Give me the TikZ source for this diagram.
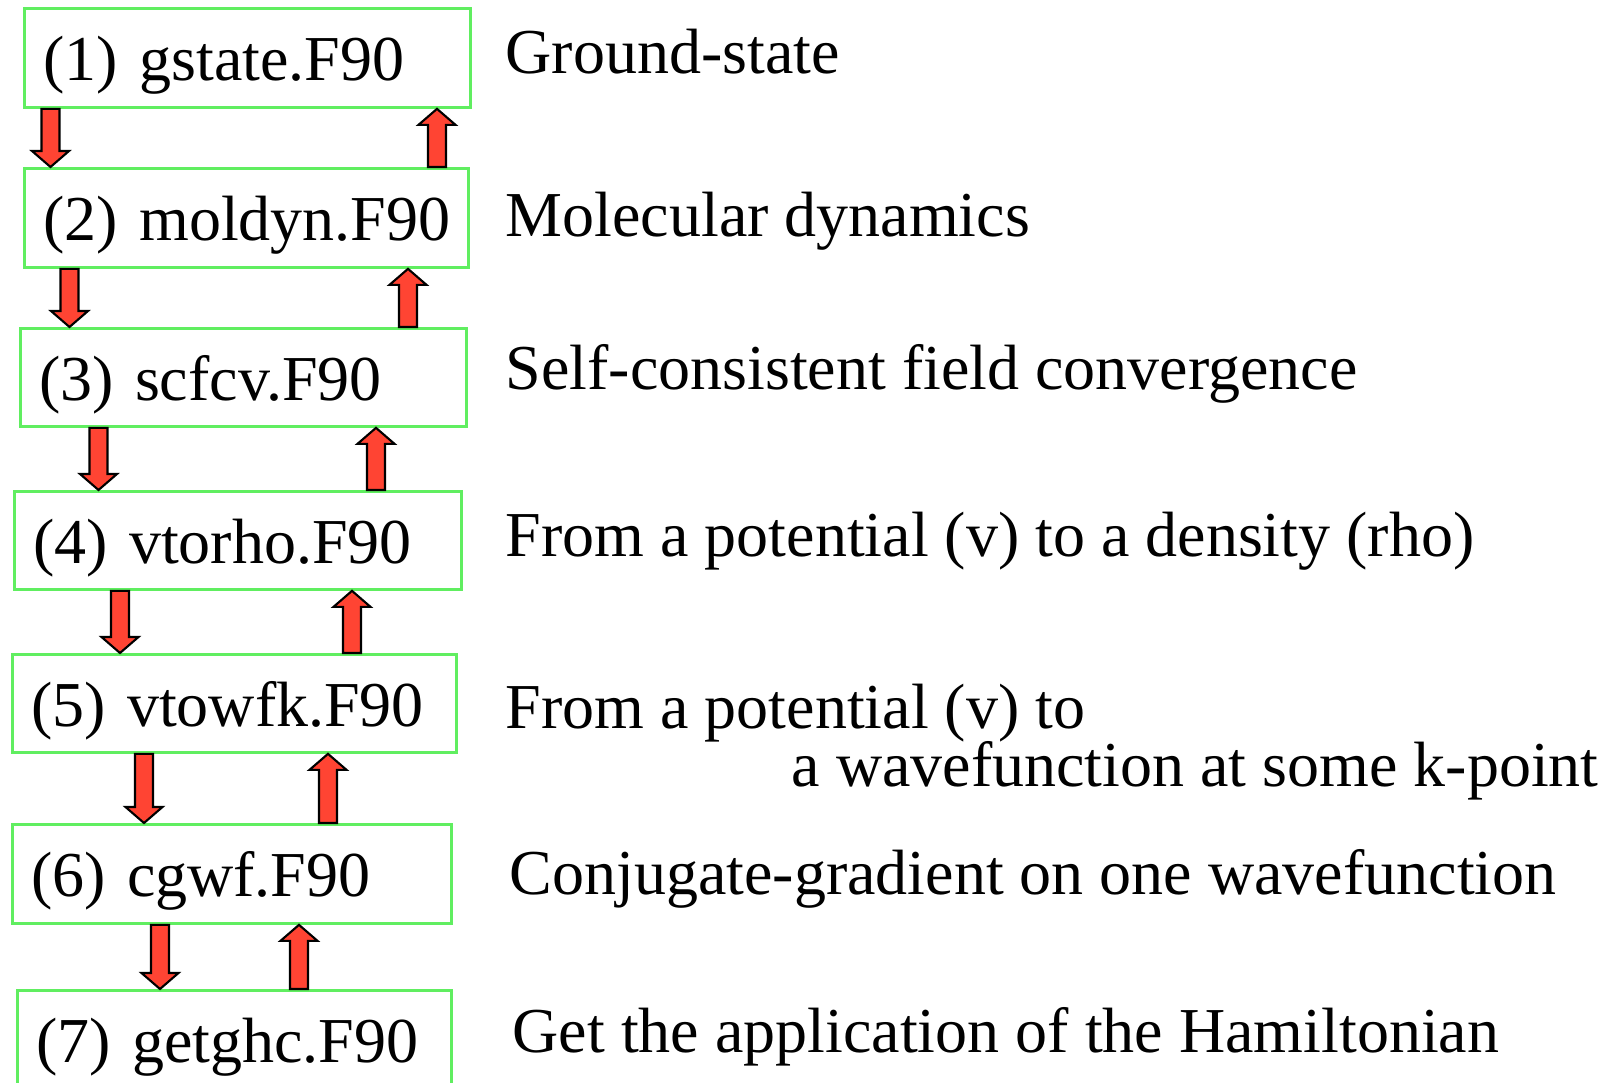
\documentclass[tikz,border=0pt]{standalone}
\usepackage{fontspec}
\setmainfont{Liberation Serif}
\usetikzlibrary{calc}

\definecolor{boxgreen}{RGB}{96,238,96}
\definecolor{arrowred}{RGB}{255,68,51}

% block arrows between two boxes, #3 = x in px
\newcommand{\calldown}[3]{%
  \filldraw[blockarrow] let \p1=(#1.south), \p2=(#2.north), \p3=(#3,0) in
    (\x3-0.09cm,\y1) -- (\x3+0.09cm,\y1) -- (\x3+0.09cm,\y2+0.16cm) -- (\x3+0.185cm,\y2+0.16cm)
    -- (\x3,\y2) -- (\x3-0.185cm,\y2+0.16cm) -- (\x3-0.09cm,\y2+0.16cm) -- cycle;}
\newcommand{\returnup}[3]{%
  \filldraw[blockarrow] let \p1=(#1.south), \p2=(#2.north), \p3=(#3,0) in
    (\x3-0.09cm,\y2) -- (\x3+0.09cm,\y2) -- (\x3+0.09cm,\y1-0.16cm) -- (\x3+0.185cm,\y1-0.16cm)
    -- (\x3,\y1) -- (\x3-0.185cm,\y1-0.16cm) -- (\x3-0.09cm,\y1-0.16cm) -- cycle;}

\begin{document}
\begin{tikzpicture}[
    x=0.01cm, y=-0.01cm,
    prog/.style={
        rectangle, draw=boxgreen, line width=0.8pt,
        anchor=north west, align=left, text width=#1,
        inner xsep=0.19cm, text height=0.46cm, text depth=0pt,
        font=\fontsize{18.2}{21}\selectfont
    },
    desc/.style={
        anchor=base west, inner sep=0pt,
        font=\fontsize{18.2}{21}\selectfont
    },
    blockarrow/.style={fill=arrowred, draw=black, line width=0.6pt, line join=miter}
]
\useasboundingbox (0,0) rectangle (1608,1083);

\node[prog=4.08cm, minimum height=0.99cm] (gstate) at (23,7) {\mbox{(1) gstate.F90}};
\node[prog=4.06cm, minimum height=0.99cm] (moldyn) at (23,167) {\mbox{(2) moldyn.F90}};
\node[prog=4.08cm, minimum height=0.98cm] (scfcv) at (18.7,327) {\mbox{(3) scfcv.F90}};
\node[prog=4.09cm, minimum height=0.98cm] (vtorho) at (12.7,490) {\mbox{(4) vtorho.F90}};
\node[prog=4.06cm, minimum height=0.98cm] (vtowfk) at (10.7,653) {\mbox{(5) vtowfk.F90}};
\node[prog=4.01cm, minimum height=0.99cm] (cgwf) at (10.7,823) {\mbox{(6) cgwf.F90}};
\node[prog=3.96cm, minimum height=0.99cm] (getghc) at (15.7,989) {\mbox{(7) getghc.F90}};

\node[desc] (gsdesc) at (505,74) {Ground-state};
\node[desc] (mddesc) at (505,237) {Molecular dynamics};
\node[desc] (scfdesc) at (505,390) {Self-consistent field convergence};
\node[desc] (rhodesc) at (505,557) {From a potential (v) to a density (rho)};
\node[desc] (wfkdesc) at (505,729) {From a potential (v) to};
\node[desc] (wfkdescb) at (791,787) {a wavefunction at some k-point};
\node[desc] (cgdesc) at (509,895) {Conjugate-gradient on one wavefunction};
\node[desc] (ghcdesc) at (512,1053) {Get the application of the Hamiltonian};

\calldown{gstate}{moldyn}{50.5}
\returnup{gstate}{moldyn}{437}
\calldown{moldyn}{scfcv}{69.5}
\returnup{moldyn}{scfcv}{408}
\calldown{scfcv}{vtorho}{98.5}
\returnup{scfcv}{vtorho}{376}
\calldown{vtorho}{vtowfk}{120}
\returnup{vtorho}{vtowfk}{352}
\calldown{vtowfk}{cgwf}{144}
\returnup{vtowfk}{cgwf}{328}
\calldown{cgwf}{getghc}{160}
\returnup{cgwf}{getghc}{299}

\end{tikzpicture}
\end{document}
